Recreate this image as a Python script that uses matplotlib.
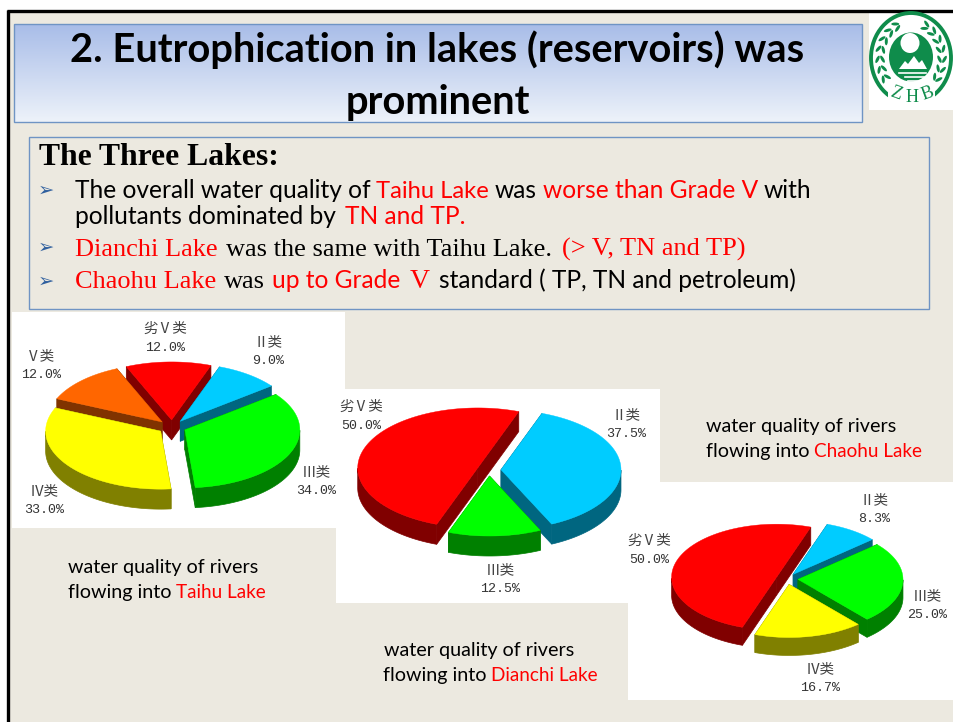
import numpy as np
import matplotlib
matplotlib.use('Agg')
import matplotlib.pyplot as plt
from matplotlib.patches import Ellipse, Polygon, Rectangle

# data
cat_taihu = ['II类', 'III类', 'IV类', 'V类', '劣V类']
val_taihu = [9.0, 34.0, 33.0, 12.0, 12.0]
cat_dianchi = ['II类', 'III类', '劣V类']
val_dianchi = [37.5, 12.5, 50.0]
cat_chaohu = ['II类', 'III类', 'IV类', '劣V类']
val_chaohu = [8.3, 25.0, 16.7, 50.0]

# top colour, side colour for each water grade
colours = {'II类': ('#00CCFF', '#006680'), 'III类': ('#00FF00', '#008000'),
           'IV类': ('#FFFF00', '#808000'), 'V类': ('#FF6600', '#803300'),
           '劣V类': ('#FF0000', '#800000')}

BG = '#ECE9E0'
BLUE = '#6F94C4'
RED = '#FF0000'
CJK = ['Noto Sans CJK SC', 'DejaVu Sans']

fig = plt.figure(figsize=(9.54, 7.22), dpi=100, facecolor='white')
ax = fig.add_axes([0, 0, 1, 1])


def pie3d(values, cats, cx, cy, rx, ry, depth, explode, start):
    # values go clockwise from start (degrees from 12 o'clock)
    ang = start + np.cumsum([0] + list(values)) * 3.6
    slices = []
    for i in range(len(values)):
        slices.append((ang[i], ang[i + 1], cats[i]))
    # painter's order, back slices first
    slices.sort(key=lambda s: -np.cos(np.radians((s[0] + s[1]) / 2)))
    for a0, a1, cat in slices:
        top, side = colours[cat]
        mid = np.radians((a0 + a1) / 2)
        ox = cx + explode * np.sin(mid)
        oy = cy - explode * np.cos(mid) * ry / rx
        t = np.radians(np.linspace(a0, a1, 120))
        xs = ox + rx * np.sin(t)
        ys = oy - ry * np.cos(t)
        # radial walls
        for k in (0, -1):
            ax.add_patch(Polygon([(ox, oy), (xs[k], ys[k]), (xs[k], ys[k] + depth), (ox, oy + depth)],
                                 fc=side, ec=side, lw=0.5, zorder=3))
        # outer wall, only the part facing us
        vis = np.cos(t) < 0
        if vis.any():
            wx = xs[vis]
            wy = ys[vis]
            pts = np.r_[np.c_[wx, wy], np.c_[wx[::-1], wy[::-1] + depth]]
            ax.add_patch(Polygon(pts, fc=side, ec=side, lw=0.5, zorder=3))
        ax.add_patch(Polygon(np.r_[[(ox, oy)], np.c_[xs, ys]], fc=top, ec=top, lw=0.3, zorder=3))


def pie_labels(values, cats, pos):
    for v, c, (x, y) in zip(values, cats, pos):
        ax.text(x, y, c.replace('III', 'Ⅲ').replace('II', 'Ⅱ').replace('IV', 'Ⅳ').replace('V', 'Ⅴ'),
                family=CJK, fontsize=10.5, color='#444444', ha='center', va='center', zorder=5)
        ax.text(x, y + 19, '%.1f%%' % v, family='Liberation Mono', fontsize=9.6,
                color='#333333', ha='center', va='center', zorder=5)


def runs(y, items, size):
    # items: x, text, colour, family
    for x, s, col, fam in items:
        ax.text(x, y, s, color=col, family=fam, fontsize=size, ha='left', va='baseline', zorder=5)


# background and frame
ax.add_patch(Rectangle((8, 11), 950, 715, fc=BG, ec='none'))
ax.plot([8.5, 8.5], [10, 722], color='black', lw=2.4, solid_capstyle='butt')
ax.plot([7, 954], [10.5, 10.5], color='black', lw=2.4, solid_capstyle='butt')

# title box
grad = np.linspace(0, 1, 100).reshape(-1, 1)
c0 = np.array([0.66, 0.74, 0.91])
c1 = np.array([0.93, 0.95, 0.98])
ax.imshow((c0 + (c1 - c0) * grad[:, :, None]), extent=(14, 862, 122, 24), aspect='auto', zorder=1)
ax.add_patch(Rectangle((14, 24), 848, 98, fc='none', ec=BLUE, lw=1, zorder=2))
ax.text(437.5, 62, '2. Eutrophication in lakes (reservoirs) was', family='Lato', weight='bold',
        fontsize=28.7, ha='center', va='baseline', zorder=5)
ax.text(437.5, 114, 'prominent', family='Lato', weight='bold', fontsize=28.7, ha='center', va='baseline', zorder=5)

# logo
G = '#0F8C4B'
ax.add_patch(Rectangle((869, 13), 85, 97, fc='white', ec='none', zorder=1))
ax.add_patch(Ellipse((911, 58), 80, 90, fc='none', ec=G, lw=2.8, zorder=2))
ax.add_patch(Ellipse((911, 57), 44, 49, fc=G, ec='none', zorder=2))
ax.add_patch(Ellipse((910, 43), 19, 20, fc='white', ec='none', zorder=3))
ax.add_patch(Polygon([(899, 69), (905, 61), (908, 64), (914, 56), (919, 63), (922, 60), (927, 69)],
                     fc='white', ec='none', zorder=3))
ax.plot([899, 926], [73, 73], color='white', lw=1.2, zorder=3)
ax.plot([905, 924], [77, 77], color='white', lw=1.2, zorder=3)
ax.plot([908, 918], [81, 81], color='white', lw=1.2, zorder=3)
for phi in np.arange(28, 125, 16):
    for sgn in (-1, 1):
        t = np.radians(phi)
        x = 911 + sgn * 31 * np.sin(t)
        y = 58 - 36 * np.cos(t)
        base = np.degrees(np.arctan2(np.sin(t), sgn * np.cos(t)))
        for slant, off in ((28, 2.5), (-28, -2.5)):
            ax.add_patch(Ellipse((x + sgn * off * np.sin(t), y - off * np.cos(t)), 8, 3,
                                 angle=base + slant, fc=G, ec='none', zorder=2))
ax.add_patch(Rectangle((888, 87), 47, 20, fc='white', ec='none', zorder=3))
for s, x, y, r in (('Z', 896, 94, -20), ('H', 912, 97, 0), ('B', 928, 94, 20)):
    ax.text(x, y, s, family='Liberation Serif', fontsize=13, color=G, rotation=r,
            ha='center', va='center', zorder=4)

# text box
ax.add_patch(Rectangle((29, 137), 900, 172, fc=BG, ec=BLUE, lw=1, zorder=1))
ax.text(39, 165, 'The Three Lakes:', family='Liberation Serif', weight='bold', fontsize=22.8,
        va='baseline', zorder=5)
for y in (190, 247, 281):
    ax.text(46, y, '➢', family='DejaVu Sans', fontsize=14, color='#2F5F9E', ha='center', va='center', zorder=5)

SANS = 'Lato'
SERIF = 'Liberation Serif'
runs(198, [(75, 'The overall water quality of', 'black', SANS), (495, 'was', 'black', SANS),
           (543, 'worse than Grade V', RED, SANS), (764, 'with', 'black', SANS)], 17.65)
runs(198, [(376, 'Taihu Lake', RED, SANS)], 17.1)
runs(224, [(75, 'pollutants dominated by', 'black', SANS), (345, 'TN and TP.', RED, SANS)], 17.65)
runs(256, [(75, 'Dianchi Lake', RED, SERIF), (226, 'was the same with Taihu Lake.', 'black', SERIF),
           (562, '(> V, TN and TP)', RED, SERIF)], 19)
runs(288, [(75, 'Chaohu Lake', RED, SERIF), (224, 'was', 'black', SERIF)], 19)
runs(288, [(272, 'up to Grade', RED, SANS), (439, 'standard ( TP, TN and petroleum)', 'black', SANS)], 17.65)
runs(288, [(410, 'V', RED, SERIF)], 20)

# chart panels
ax.add_patch(Rectangle((12, 312), 333, 216, fc='white', ec='none', zorder=1))
pie3d(val_taihu, cat_taihu, 172, 427, 115, 58, 20, 14, 20)
pie_labels(val_taihu, cat_taihu, [(268, 342), (316, 472), (44, 491), (41, 356), (165, 329)])

ax.add_patch(Rectangle((336, 389), 324, 214, fc='white', ec='none', zorder=3))
pie3d(val_dianchi, cat_dianchi, 489, 470, 120, 60, 20, 12, 20)
pie_labels(val_dianchi, cat_dianchi, [(626, 415), (500, 570), (361, 407)])

ax.add_patch(Rectangle((628, 482), 326, 218, fc='white', ec='none', zorder=3))
pie3d(val_chaohu, cat_chaohu, 787, 579, 105, 53, 18, 11, 19)
pie_labels(val_chaohu, cat_chaohu, [(874, 500), (927, 596), (820, 669), (649, 541)])

# captions
runs(573, [(68, 'water quality of rivers', 'black', SANS)], 14.2)
runs(598, [(68, 'flowing into', 'black', SANS)], 14.2)
runs(598, [(176, 'Taihu Lake', RED, SANS)], 13.6)
runs(656, [(384, 'water quality of rivers', 'black', SANS)], 14.2)
runs(681, [(383, 'flowing into', 'black', SANS)], 14.2)
runs(681, [(491, 'Dianchi Lake', RED, SANS)], 13.6)
runs(432, [(706, 'water quality of rivers', 'black', SANS)], 14.2)
runs(457, [(706, 'flowing into', 'black', SANS)], 14.2)
runs(457, [(814, 'Chaohu Lake', RED, SANS)], 13.6)

ax.set_xlim(0, 954)
ax.set_ylim(722, 0)
ax.axis('off')
fig.savefig('out.png', dpi=100, facecolor='white')
